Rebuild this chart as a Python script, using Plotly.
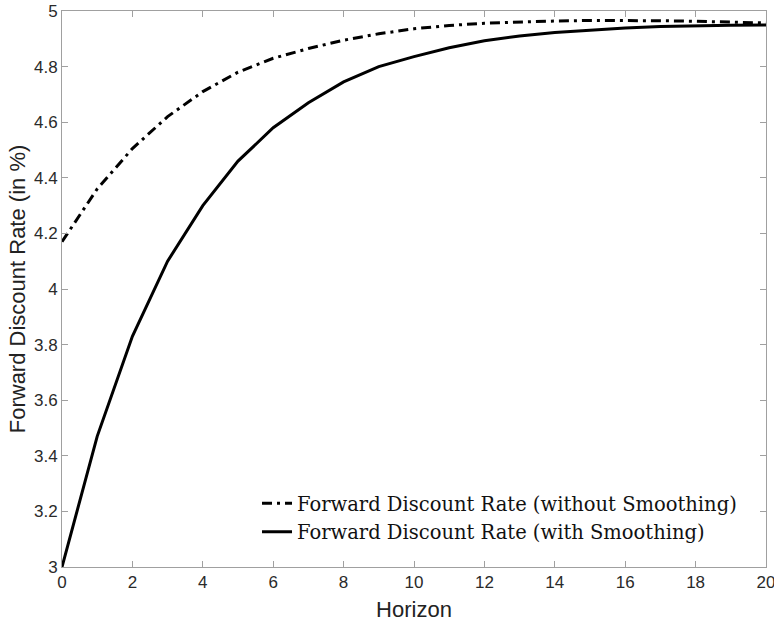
import plotly.graph_objects as go

horizon = list(range(0, 21))
without_smoothing = [4.17, 4.36, 4.505, 4.62, 4.71, 4.78, 4.83, 4.865, 4.895, 4.918,
                     4.936, 4.948, 4.956, 4.961, 4.964, 4.966, 4.966, 4.965, 4.963, 4.96, 4.957]
with_smoothing = [3.0, 3.47, 3.83, 4.10, 4.30, 4.46, 4.58, 4.67, 4.745, 4.80,
                  4.836, 4.868, 4.893, 4.91, 4.923, 4.932, 4.939, 4.944, 4.947, 4.949, 4.95]
x_ticks = list(range(0, 21, 2))
y_ticks = [3, 3.2, 3.4, 3.6, 3.8, 4, 4.2, 4.4, 4.6, 4.8, 5]
y_tick_text = ["3", "3.2", "3.4", "3.6", "3.8", "4", "4.2", "4.4", "4.6", "4.8", "5"]

fig = go.Figure()
fig.add_trace(go.Scatter(x=horizon, y=without_smoothing, mode="lines",
                         name="Forward Discount Rate (without Smoothing)",
                         line=dict(color="black", width=3, dash="10px,5px,3px,5px")))
fig.add_trace(go.Scatter(x=horizon, y=with_smoothing, mode="lines",
                         name="Forward Discount Rate (with Smoothing)",
                         line=dict(color="black", width=3)))

axis_common = dict(showline=True, linecolor="#a0a0a0", linewidth=1, mirror="ticks",
                   ticks="inside", ticklen=6, tickcolor="#a0a0a0", showgrid=False,
                   zeroline=False, automargin=False, ticklabeloverflow="allow",
                   tickfont=dict(family="Liberation Sans, Arial", size=17, color="#2a2a2a"))

fig.update_layout(
    width=774, height=625,
    margin=dict(l=62, r=8, t=11, b=58),
    paper_bgcolor="white", plot_bgcolor="white",
    xaxis=dict(range=[0, 20], tickvals=x_ticks,
               title=dict(text="Horizon", font=dict(family="Liberation Sans, Arial", size=22, color="#222222"), standoff=10),
               **axis_common),
    yaxis=dict(range=[3, 5], tickvals=y_ticks, ticktext=y_tick_text,
               title=dict(text="Forward Discount Rate (in %)", font=dict(family="Liberation Sans, Arial", size=22, color="#222222"), standoff=2),
               **axis_common),
    legend=dict(x=0.277, y=0.149, xanchor="left", yanchor="top",
                bgcolor="rgba(255,255,255,0)", borderwidth=0,
                font=dict(family="DejaVu Serif", size=19.5, color="#111111"),
                tracegroupgap=0),
    showlegend=True,
)

fig.write_html("out.html", config={"displayModeBar": False},
               post_script="document.body.style.margin='0px';document.body.style.overflow='hidden';")
